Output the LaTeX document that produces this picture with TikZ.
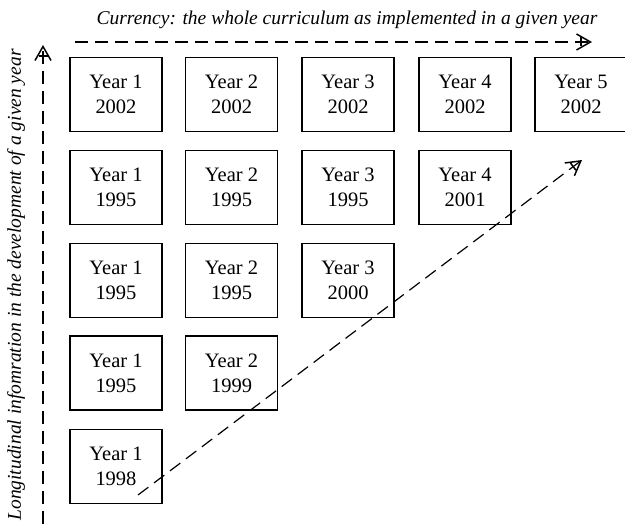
\documentclass[tikz,border=0pt]{standalone}
\usepackage{fontspec}
\setmainfont{Liberation Serif}
\usetikzlibrary{arrows.meta}
\tikzset{
	yearbox/.style={draw, line width=1.3pt, minimum width=92pt, minimum height=74pt, inner sep=0pt, align=center, font=\fontsize{20.5}{25}\selectfont},
	dasharrow/.style={line width=1.2pt, dash pattern=on 13pt off 7pt, -{Bar[width=9pt, line width=1.5pt, sep=-6pt] Straight Barb[length=14pt, width=16pt, line width=1.5pt]}},
	axislabel/.style={font=\fontsize{19.5}{22}\selectfont\itshape}
}

\begin{document}
\begin{tikzpicture}[x=1pt, y=-1pt]
			%%%%% START %%%%%
			
			\useasboundingbox (0, 0) rectangle (625, 524);
			
			\node[yearbox] (y1r1) at (116, 94.5) {Year 1\\2002};
			\node[yearbox] (y2r1) at (231.5, 94.5) {Year 2\\2002};
			\node[yearbox] (y3r1) at (348, 94.5) {Year 3\\2002};
			\node[yearbox] (y4r1) at (465, 94.5) {Year 4\\2002};
			\node[yearbox] (y5r1) at (581, 94.5) {Year 5\\2002};
			
			\node[yearbox] (y1r2) at (116, 187.5) {Year 1\\1995};
			\node[yearbox] (y2r2) at (231.5, 187.5) {Year 2\\1995};
			\node[yearbox] (y3r2) at (348, 187.5) {Year 3\\1995};
			\node[yearbox] (y4r2) at (465, 187.5) {Year 4\\2001};
			
			\node[yearbox] (y1r3) at (116, 280.5) {Year 1\\1995};
			\node[yearbox] (y2r3) at (231.5, 280.5) {Year 2\\1995};
			\node[yearbox] (y3r3) at (348, 280.5) {Year 3\\2000};
			
			\node[yearbox] (y1r4) at (116, 373) {Year 1\\1995};
			\node[yearbox] (y2r4) at (231.5, 373) {Year 2\\1999};
			
			\node[yearbox] (y1r5) at (116, 466.5) {Year 1\\1998};
			
			\node[axislabel] (currency) at (347, 20) {Currency: the whole curriculum as implemented in a given year};
			\node[axislabel, rotate=90] (longit) at (16, 285) {Longitudinal infomration in the development of a given year};
			
			\coordinate (curstart) at (75, 42);
			\coordinate (curend) at (592, 42);
			\coordinate (lonstart) at (43, 524);
			\coordinate (lonend) at (43, 45);
			\coordinate (diagstart) at (138, 495);
			\coordinate (diagend) at (582, 160);
			
			\draw[dasharrow] (curstart) -- (curend);
			\draw[dasharrow] (lonstart) -- (lonend);
			\draw[dasharrow] (diagstart) -- (diagend);
			
			%%%%% END %%%%%
\end{tikzpicture}
\end{document}
